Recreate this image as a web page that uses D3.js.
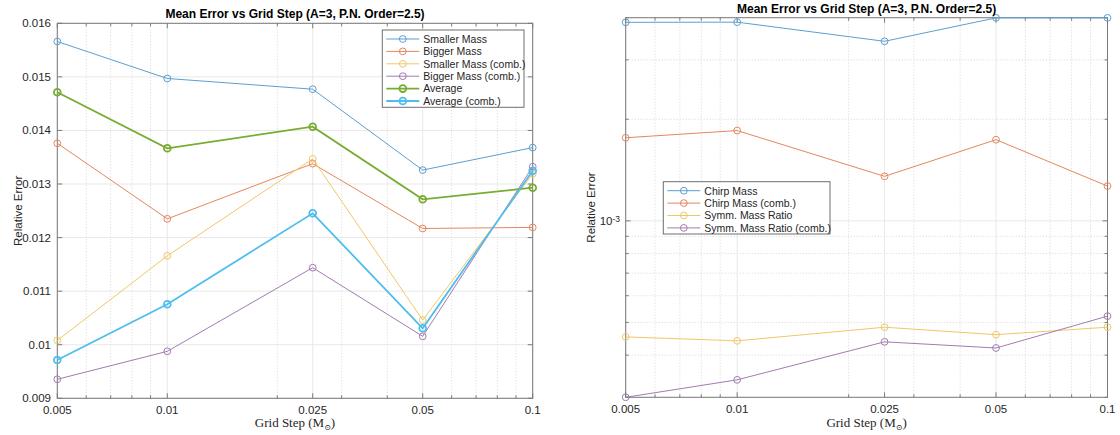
<!DOCTYPE html>
<html>
<head>
<meta charset="utf-8">
<script src="https://cdn.jsdelivr.net/npm/d3@7"></script>
<style>
body { margin: 0; background: #fff; }
text { font-family: "Liberation Sans", Arial, sans-serif; fill: #262626; }
</style>
</head>
<body>
<svg id="chart" width="1120" height="435"></svg>
<script>
// Shared x values (grid step, log axis)
var gridSteps = [0.005, 0.01, 0.025, 0.05, 0.1];
var stepLabels = ["0.005", "0.01", "0.025", "0.05", "0.1"];
var minorSteps = [0.006, 0.007, 0.008, 0.009, 0.02, 0.03, 0.04, 0.06, 0.07, 0.08, 0.09];

// Left panel: mass errors
var leftNames = ["Smaller Mass", "Bigger Mass", "Smaller Mass (comb.)", "Bigger Mass (comb.)", "Average", "Average (comb.)"];
var smallerMass = [0.01566, 0.01497, 0.01477, 0.01326, 0.01368];
var biggerMass = [0.01376, 0.01235, 0.01338, 0.01217, 0.01219];
var smallerMassComb = [0.01008, 0.01166, 0.01347, 0.01046, 0.01319];
var biggerMassComb = [0.009355, 0.009877, 0.011438, 0.010157, 0.013323];
var average = [0.014712, 0.013667, 0.01407, 0.012715, 0.012931];
var averageComb = [0.009715, 0.010755, 0.012453, 0.010307, 0.013249];
var leftYTicks = [0.009, 0.010, 0.011, 0.012, 0.013, 0.014, 0.015, 0.016];
var leftYLabels = ["0.009", "0.01", "0.011", "0.012", "0.013", "0.014", "0.015", "0.016"];

// Right panel: chirp mass / symmetric mass ratio errors
var rightNames = ["Chirp Mass", "Chirp Mass (comb.)", "Symm. Mass Ratio", "Symm. Mass Ratio (comb.)"];
var chirpMass = [0.003876, 0.003880, 0.003405, 0.003995, 0.003995];
var chirpMassComb = [0.001763, 0.001852, 0.001355, 0.001740, 0.001268];
var symmRatio = [0.000453, 0.000441, 0.000484, 0.000460, 0.000484];
var symmRatioComb = [0.000300, 0.000338, 0.000438, 0.000420, 0.000522];
var rightYMinor = [0.0003, 0.0004, 0.0005, 0.0006, 0.0007, 0.0008, 0.0009, 0.002, 0.003, 0.004];

var colors = {
    blue: "#5b9fd0",
    orange: "#e3875d",
    yellow: "#efc866",
    purple: "#a27bb0",
    green: "#77ac30",
    cyan: "#4dbeee"
};

var svg = d3.select("#chart");

function drawPanel(p) {
    var x = d3.scaleLog().domain([0.005, 0.1]).range([p.left, p.right]);
    var y = p.yScale.range([p.bottom, p.top]);
    var g = svg.append("g");

    // minor grid (dotted)
    g.selectAll(".vminor").data(minorSteps).enter().append("line")
        .attr("x1", d => x(d)).attr("x2", d => x(d))
        .attr("y1", p.top).attr("y2", p.bottom)
        .attr("stroke", "#d6d6d6").attr("stroke-dasharray", "1,2");
    g.selectAll(".hminor").data(p.yMinor).enter().append("line")
        .attr("x1", p.left).attr("x2", p.right)
        .attr("y1", d => y(d)).attr("y2", d => y(d))
        .attr("stroke", "#d6d6d6").attr("stroke-dasharray", "1,2");

    // major grid
    g.selectAll(".vmajor").data(gridSteps).enter().append("line")
        .attr("x1", d => x(d)).attr("x2", d => x(d))
        .attr("y1", p.top).attr("y2", p.bottom)
        .attr("stroke", "#e8e8e8");
    g.selectAll(".hmajor").data(p.yTicks).enter().append("line")
        .attr("x1", p.left).attr("x2", p.right)
        .attr("y1", d => y(d)).attr("y2", d => y(d))
        .attr("stroke", "#e8e8e8");

    // ticks on all four sides, pointing in
    var tk = g.append("g").attr("stroke", "#7a7a7a");
    gridSteps.forEach(function(d) {
        tk.append("line").attr("x1", x(d)).attr("x2", x(d)).attr("y1", p.bottom).attr("y2", p.bottom - 5);
        tk.append("line").attr("x1", x(d)).attr("x2", x(d)).attr("y1", p.top).attr("y2", p.top + 5);
    });
    minorSteps.forEach(function(d) {
        tk.append("line").attr("x1", x(d)).attr("x2", x(d)).attr("y1", p.bottom).attr("y2", p.bottom - 3);
        tk.append("line").attr("x1", x(d)).attr("x2", x(d)).attr("y1", p.top).attr("y2", p.top + 3);
    });
    p.yTicks.forEach(function(d) {
        tk.append("line").attr("x1", p.left).attr("x2", p.left + 5).attr("y1", y(d)).attr("y2", y(d));
        tk.append("line").attr("x1", p.right).attr("x2", p.right - 5).attr("y1", y(d)).attr("y2", y(d));
    });
    p.yMinor.forEach(function(d) {
        tk.append("line").attr("x1", p.left).attr("x2", p.left + 3).attr("y1", y(d)).attr("y2", y(d));
        tk.append("line").attr("x1", p.right).attr("x2", p.right - 3).attr("y1", y(d)).attr("y2", y(d));
    });

    // box
    g.append("rect")
        .attr("x", p.left).attr("y", p.top)
        .attr("width", p.right - p.left).attr("height", p.bottom - p.top)
        .attr("fill", "none").attr("stroke", "#7a7a7a");

    // x tick labels
    g.selectAll(".xlab").data(gridSteps).enter().append("text")
        .attr("x", d => x(d)).attr("y", p.bottom + 16)
        .attr("text-anchor", "middle").style("font-size", "11.5px")
        .text((d, i) => stepLabels[i]);

    // y tick labels
    p.yLabel(g, y);

    // series
    var line = d3.line().x((d, i) => x(gridSteps[i])).y(d => y(d));
    p.series.forEach(function(s) {
        var sg = g.append("g");
        sg.append("path").datum(s.values)
            .attr("d", line).attr("fill", "none")
            .attr("stroke", s.color).attr("stroke-width", s.width);
        sg.selectAll("circle").data(s.values).enter().append("circle")
            .attr("cx", (d, i) => x(gridSteps[i])).attr("cy", d => y(d))
            .attr("r", 3.4).attr("fill", "none")
            .attr("stroke", s.color).attr("stroke-width", s.width);
    });

    // title
    g.append("text")
        .attr("x", (p.left + p.right) / 2).attr("y", p.top - 5)
        .attr("text-anchor", "middle")
        .style("font-size", "12px").style("font-weight", "bold").style("fill", "#000")
        .text("Mean Error vs Grid Step (A=3, P.N. Order=2.5)");

    // x axis title
    var xt = g.append("text")
        .attr("x", (p.left + p.right) / 2).attr("y", 427)
        .attr("text-anchor", "middle")
        .style("font-family", "'Liberation Serif', 'DejaVu Serif', serif")
        .style("font-size", "13px");
    xt.append("tspan").text("Grid Step (M");
    xt.append("tspan").attr("dy", 3).style("font-size", "8px").text("\u2299");
    xt.append("tspan").attr("dy", -3).text(")");

    // y axis title
    g.append("text")
        .attr("transform", "translate(" + p.yTitleX + "," + ((p.top + p.bottom) / 2) + ") rotate(-90)")
        .attr("text-anchor", "middle").style("font-size", "11.5px")
        .text("Relative Error");

    // legend
    var lg = g.append("g");
    lg.append("rect")
        .attr("x", p.legend.x).attr("y", p.legend.y)
        .attr("width", p.legend.w).attr("height", p.legend.h)
        .attr("fill", "#fff").attr("stroke", "#6e6e6e");
    p.series.forEach(function(s, i) {
        var ly = p.legend.y + 9 + i * p.legend.step;
        var lx = p.legend.x + 4;
        lg.append("line").attr("x1", lx).attr("x2", lx + 33).attr("y1", ly).attr("y2", ly)
            .attr("stroke", s.color).attr("stroke-width", s.width);
        lg.append("circle").attr("cx", lx + 16.5).attr("cy", ly).attr("r", 3.4)
            .attr("fill", "none").attr("stroke", s.color).attr("stroke-width", s.width);
        lg.append("text").attr("x", lx + 37).attr("y", ly + 3.8)
            .style("font-size", "10.5px").text(s.name);
    });
}

// Left panel
drawPanel({
    left: 57.3, right: 532.7, top: 23.3, bottom: 398.3,
    yScale: d3.scaleLinear().domain([0.009, 0.016]),
    yTicks: leftYTicks,
    yMinor: [],
    yTitleX: 22,
    yLabel: function(g, y) {
        g.selectAll(".ylab").data(leftYTicks).enter().append("text")
            .attr("x", 51).attr("y", d => y(d)).attr("dy", "0.35em")
            .attr("text-anchor", "end").style("font-size", "11.5px")
            .text((d, i) => leftYLabels[i]);
    },
    series: [
        {name: leftNames[0], values: smallerMass, color: colors.blue, width: 1},
        {name: leftNames[1], values: biggerMass, color: colors.orange, width: 1},
        {name: leftNames[2], values: smallerMassComb, color: colors.yellow, width: 1},
        {name: leftNames[3], values: biggerMassComb, color: colors.purple, width: 1},
        {name: leftNames[4], values: average, color: colors.green, width: 1.8},
        {name: leftNames[5], values: averageComb, color: colors.cyan, width: 1.8}
    ],
    legend: {x: 382.3, y: 30, w: 141.7, h: 77.3, step: 12.4}
});

// Right panel
drawPanel({
    left: 625.7, right: 1107.5, top: 17.7, bottom: 397.3,
    yScale: d3.scaleLog().domain([0.0003, 0.004]),
    yTicks: [0.001],
    yMinor: rightYMinor,
    yTitleX: 595,
    yLabel: function(g, y) {
        var t = g.append("text")
            .attr("x", 620).attr("y", y(0.001)).attr("dy", "0.4em")
            .attr("text-anchor", "end").style("font-size", "11.5px");
        t.append("tspan").text("10");
        t.append("tspan").attr("dy", "-0.45em").style("font-size", "8.5px").text("-3");
    },
    series: [
        {name: rightNames[0], values: chirpMass, color: colors.blue, width: 1},
        {name: rightNames[1], values: chirpMassComb, color: colors.orange, width: 1},
        {name: rightNames[2], values: symmRatio, color: colors.yellow, width: 1},
        {name: rightNames[3], values: symmRatioComb, color: colors.purple, width: 1}
    ],
    legend: {x: 663.3, y: 181.7, w: 166.7, h: 52.3, step: 12.4}
});
</script>
</body>
</html>
